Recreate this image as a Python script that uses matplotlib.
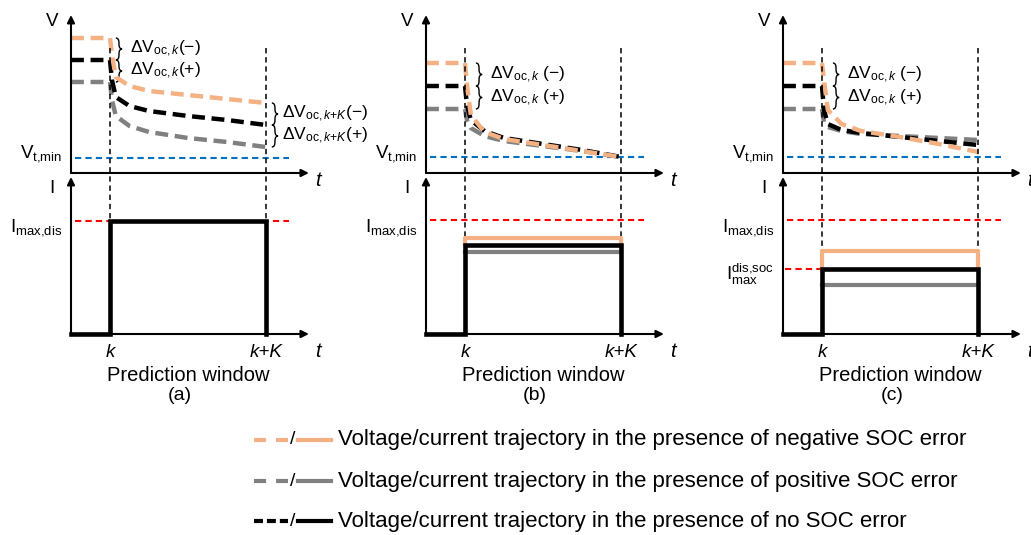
import matplotlib
matplotlib.use('Agg')
import matplotlib.pyplot as plt
from matplotlib.path import Path
from matplotlib.patches import PathPatch

plt.rcParams['font.family'] = ['Liberation Sans', 'DejaVu Sans']
plt.rcParams['mathtext.fontset'] = 'custom'
plt.rcParams['mathtext.rm'] = 'Liberation Sans'
plt.rcParams['mathtext.it'] = 'Liberation Sans:italic'
plt.rcParams['mathtext.bf'] = 'Liberation Sans:bold'

ORANGE = '#F4B183'
GRAY = '#808080'
BLUE = '#0070C0'
RED = '#FF0000'

W, H = 1031, 535
PX_T, PX_Y = 39.0, 20.0        # pixels per unit on time / value axes

# time grid: 0 = axis, k = 1, k+K = 5
t_k, t_kK = 1.0, 5.0
t_v = [0.0, 1.0, 1.05, 1.15, 1.5, 2.0, 3.0, 4.0, 5.0]

# (a) terminal voltage: negative / positive / no SOC error
va_neg = [6.75, 6.75, 5.9, 4.8, 4.35, 4.1, 3.9, 3.7, 3.5]
va_pos = [4.55, 4.55, 3.65, 2.85, 2.35, 2.05, 1.75, 1.55, 1.3]
va_none = [5.65, 5.65, 4.65, 3.8, 3.35, 3.1, 2.85, 2.65, 2.4]
# (b)
vb_neg = [5.5, 5.5, 4.4, 2.9, 2.05, 1.7, 1.4, 1.1, 0.8]
vb_pos = [3.2, 3.2, 2.65, 2.25, 1.85, 1.6, 1.35, 1.1, 0.8]
vb_none = [4.35, 4.35, 3.4, 2.65, 2.1, 1.75, 1.45, 1.15, 0.8]
# (c)
vc_neg = [5.5, 5.5, 4.65, 3.15, 2.45, 2.1, 1.8, 1.45, 1.05]
vc_pos = [3.2, 3.2, 2.55, 2.3, 2.1, 1.95, 1.85, 1.75, 1.65]
vc_none = [4.35, 4.35, 3.15, 2.45, 2.15, 2.0, 1.8, 1.6, 1.4]

v_tmin = [0.75, 0.8, 0.8]

# discharge current inside the window (neg, pos, none), None = not drawn
i_neg = [None, 4.8, 4.15]
i_pos = [None, 4.1, 2.45]
i_none = [5.65, 4.45, 3.25]
i_max_dis = [5.65, 5.7, 5.7]
i_max_soc = [None, None, 3.25]

panel_x0 = [71, 426, 783]
panel_tag = ['(a)', '(b)', '(c)']
volts = [(va_neg, va_pos, va_none), (vb_neg, vb_pos, vb_none), (vc_neg, vc_pos, vc_none)]

fig = plt.figure(figsize=(W / 100, H / 100), dpi=100)


def overlay(x0, y0):
    ax = fig.add_axes([0, 0, 1, 1])
    ax.set_xlim(-x0 / PX_T, (W - x0) / PX_T)
    ax.set_ylim((y0 - H) / PX_Y, y0 / PX_Y)
    ax.axis('off')
    ax.patch.set_alpha(0)
    return ax


def arrow_axes(ax, ytop):
    kw = dict(arrowstyle='-|>', lw=1.5, color='black', mutation_scale=11,
              shrinkA=0, shrinkB=0)
    ax.annotate('', xy=(6.1, 0), xytext=(0, 0), arrowprops=kw, annotation_clip=False)
    ax.annotate('', xy=(0, ytop), xytext=(0, 0), arrowprops=kw, annotation_clip=False)


def brace(ax, x, ytop, ybot, w=0.16):
    ym = (ytop + ybot) / 2
    r = min(0.25, (ytop - ybot) / 4)
    x1, x2 = x + w / 2, x + w
    verts = [(x, ytop), (x1, ytop), (x1, ytop - r),
             (x1, ym + r), (x1, ym), (x2, ym),
             (x1, ym), (x1, ym - r),
             (x1, ybot + r), (x1, ybot), (x, ybot)]
    codes = [Path.MOVETO, Path.CURVE3, Path.CURVE3,
             Path.LINETO, Path.CURVE3, Path.CURVE3,
             Path.CURVE3, Path.CURVE3,
             Path.LINETO, Path.CURVE3, Path.CURVE3]
    ax.add_patch(PathPatch(Path(verts, codes), fill=False, lw=1.0, ec='black',
                           clip_on=False))


FS = 13.5
FS_ANN = 12.5
dash_v = (2.9, 1.5)

for p in range(3):
    x0 = panel_x0[p]
    axv = overlay(x0, 173)
    axi = overlay(x0, 334)
    neg, pos, none = volts[p]

    # voltage panel
    arrow_axes(axv, 7.9)
    axv.plot([0.1, 5.6], [v_tmin[p]] * 2, color=BLUE, lw=1.5, dashes=(3, 2), clip_on=False)
    for vals, c in ((pos, GRAY), (none, 'black'), (neg, ORANGE)):
        axv.plot(t_v, vals, color=c, lw=3.2, dashes=dash_v, clip_on=False)
    axv.text(-0.49, 7.55, 'V', fontsize=FS, ha='center', va='center')
    axv.text(6.33, -0.35, 't', fontsize=FS + 1, ha='center', va='center', style='italic')
    axv.text(-0.23, 0.8, r'$\mathrm{V}_{\mathrm{t{,}min}}$', fontsize=FS, ha='right', va='baseline')

    sp = '' if p == 0 else r'\ '
    bx = 1.15 if p == 0 else 1.28
    brace(axv, bx, neg[0], none[0])
    brace(axv, bx, none[0], pos[0])
    axv.text(bx + 0.36, (neg[0] + none[0]) / 2, r'$\Delta\mathrm{V}_{\mathrm{oc},k}' + sp + '(-)$',
             fontsize=FS_ANN, ha='left', va='center')
    axv.text(bx + 0.36, (none[0] + pos[0]) / 2, r'$\Delta\mathrm{V}_{\mathrm{oc},k}' + sp + '(+)$',
             fontsize=FS_ANN, ha='left', va='center')
    if p == 0:
        brace(axv, 5.15, neg[-1], none[-1])
        brace(axv, 5.15, none[-1], pos[-1])
        axv.text(5.42, (neg[-1] + none[-1]) / 2, r'$\Delta\mathrm{V}_{\mathrm{oc},k{+}K}(-)$',
                 fontsize=FS_ANN, ha='left', va='center')
        axv.text(5.42, (none[-1] + pos[-1]) / 2, r'$\Delta\mathrm{V}_{\mathrm{oc},k{+}K}(+)$',
                 fontsize=FS_ANN, ha='left', va='center')

    # current panel
    arrow_axes(axi, 7.85)
    top = i_none[p] if i_neg[p] is None else i_neg[p]
    for tt in (t_k, t_kK):
        axi.plot([tt, tt], [14.3, top], color='black', lw=1.1, dashes=(3.5, 2.5), clip_on=False)
    axi.plot([0.1, 5.6], [i_max_dis[p]] * 2, color=RED, lw=1.5, dashes=(3, 2), clip_on=False)
    if i_max_soc[p] is not None:
        axi.plot([0.05, t_k], [i_max_soc[p]] * 2, color=RED, lw=1.5, dashes=(3, 2), clip_on=False)
    if i_neg[p] is not None:
        axi.plot([t_k, t_k, t_kK, t_kK], [i_none[p], i_neg[p], i_neg[p], i_none[p]],
                 color=ORANGE, lw=3.0, clip_on=False)
    if i_pos[p] is not None:
        axi.plot([t_k, t_kK], [i_pos[p]] * 2, color=GRAY, lw=3.0, clip_on=False)
    axi.plot([0, t_k, t_k, t_kK, t_kK], [0, 0, i_none[p], i_none[p], 0],
             color='black', lw=3.3, solid_joinstyle='miter', clip_on=False)

    axi.text(-0.49, 7.05, 'I', fontsize=FS, ha='center', va='baseline')
    axi.text(-0.23, 5.1, r'$\mathrm{I}_{\mathrm{max{,}dis}}$', fontsize=FS, ha='right', va='baseline')
    if i_max_soc[p] is not None:
        axi.text(-0.23, 2.7, r'$\mathrm{I}_{\mathrm{max}}^{\mathrm{dis{,}soc}}$', fontsize=FS,
                 ha='right', va='baseline')
    axi.text(t_k, -1.15, 'k', fontsize=FS, ha='center', va='baseline', style='italic')
    axi.text(t_kK, -1.15, 'k+K', fontsize=FS, ha='center', va='baseline', style='italic')
    axi.text(6.33, -1.15, 't', fontsize=FS + 1, ha='center', va='baseline', style='italic')
    axi.text(3.0, -2.35, 'Prediction window', fontsize=14.5, ha='center', va='baseline')
    axi.text(2.8, -3.3, panel_tag[p], fontsize=FS + 0.5, ha='center', va='baseline')

# legend
leg_labels = ['Voltage/current trajectory in the presence of negative SOC error',
              'Voltage/current trajectory in the presence of positive SOC error',
              'Voltage/current trajectory in the presence of no SOC error']
leg_colors = [ORANGE, GRAY, 'black']
leg_dashes = [(2.9, 2.4), (2.9, 2.4), (2.15, 0.95)]
leg_y = [440, 481, 521]

axl = fig.add_axes([0, 0, 1, 1])
axl.set_xlim(0, W)
axl.set_ylim(H, 0)
axl.axis('off')
axl.patch.set_alpha(0)
for lab, c, d, y in zip(leg_labels, leg_colors, leg_dashes, leg_y):
    axl.plot([254, 288], [y, y], color=c, lw=3.0, dashes=d)
    axl.text(293, y, '/', fontsize=14, ha='center', va='center')
    axl.plot([298, 331], [y, y], color=c, lw=3.0)
    axl.text(338, y, lab, fontsize=16, ha='left', va='center')

fig.savefig('out.png', dpi=100)
